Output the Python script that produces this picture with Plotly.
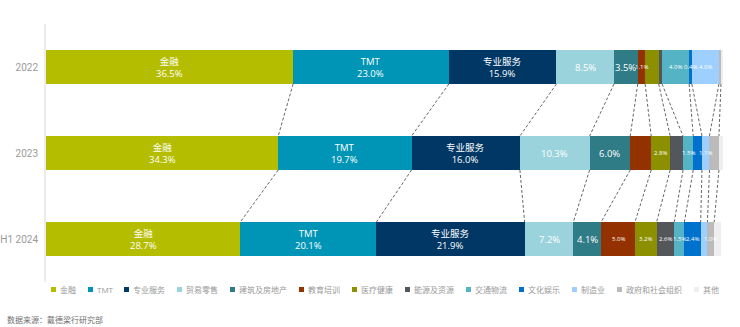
import plotly.graph_objects as go

# Industry share of office leasing demand (%)
categories = ['金融', 'TMT', '专业服务', '贸易零售', '建筑及房地产', '教育培训', '医疗健康',
              '能源及资源', '交通物流', '文化娱乐', '制造业', '政府和社会组织', '其他']
periods = ['2022', '2023', 'H1 2024']
share_2022 = [36.5, 23.0, 15.9, 8.5, 3.5, 1.1, 2.0, 0.5, 4.0, 0.4, 4.0, 0.3, 0.3]
share_2023 = [34.3, 19.7, 16.0, 10.3, 6.0, 3.1, 2.8, 1.9, 1.5, 1.3, 1.1, 1.4, 0.6]
share_h1_2024 = [28.7, 20.1, 21.9, 7.2, 4.1, 5.0, 3.2, 2.6, 1.5, 2.4, 1.0, 1.0, 1.0]
series = [share_2022, share_2023, share_h1_2024]

# Segments left unlabelled
unlabelled = {
    '2022': ['医疗健康', '能源及资源', '政府和社会组织', '其他'],
    '2023': ['教育培训', '能源及资源', '文化娱乐', '政府和社会组织', '其他'],
    'H1 2024': ['制造业', '其他'],
}

colors = ['#b5bd00', '#0095b6', '#003764', '#9bd3dd', '#2f7b86', '#943100', '#8b8f00',
          '#53565a', '#55b3c6', '#0072ce', '#9dcfff', '#bbbbbb', '#eeeeee']
named_cats = categories[:3]           # two-line label: name + value
large_cats = ['贸易零售', '建筑及房地产']  # single-line larger value label

FONT = 'Open Sans, Noto Sans CJK SC, sans-serif'
TICK_FONT = 'Roboto, Noto Sans CJK SC, sans-serif'
W, H = 740, 327
ML, MR, MT, MB = 46, 17, 24, 45
BAR_W = 0.395
PW = W - ML - MR
PH = H - MT - MB


def px_to_paper_x(px):
    return (px - ML) / PW


def px_to_paper_y(py):
    return (H - MB - py) / PH


fig = go.Figure()
for ci, cat in enumerate(categories):
    fig.add_trace(go.Bar(
        name=cat,
        orientation='h',
        y=list(range(len(periods))),
        x=[s[ci] for s in series],
        width=BAR_W,
        marker=dict(color=colors[ci], line=dict(width=0)),
        showlegend=False,
        hoverinfo='x+name',
    ))

annotations = []
shapes = []

# value labels inside segments
for pi, period in enumerate(periods):
    start = 0.0
    for ci, cat in enumerate(categories):
        v = series[pi][ci]
        mid = start + v / 2
        start += v
        if cat in unlabelled[period]:
            continue
        if cat in named_cats:
            text, size = f'{cat}<br>{v:.1f}%', 9.5
        elif cat in large_cats:
            text, size = f'{v:.1f}%', 9.5
        else:
            text, size = f'{v:.1f}%', 6
        annotations.append(dict(
            x=mid, y=pi, xref='x', yref='y', text=text, showarrow=False,
            font=dict(family=FONT, size=size, color='white'),
            xanchor='center', yanchor='middle',
        ))

# dashed connectors between matching segment boundaries
for pi in range(len(periods) - 1):
    cum_a = cum_b = 0.0
    for ci in range(len(categories) - 1):
        cum_a += series[pi][ci]
        cum_b += series[pi + 1][ci]
        shapes.append(dict(
            type='line', xref='x', yref='y',
            x0=cum_a, y0=pi + BAR_W / 2, x1=cum_b, y1=pi + 1 - BAR_W / 2,
            line=dict(color='#666666', width=1, dash='3px,2px'),
        ))

# legend row drawn as small squares and text
def text_width(s):
    return sum(8 if ord(ch) > 255 else 5 for ch in s)


lx = 51
ly = 289.5
for ci, cat in enumerate(categories):
    shapes.append(dict(
        type='rect', xref='paper', yref='paper',
        x0=px_to_paper_x(lx), x1=px_to_paper_x(lx + 5),
        y0=px_to_paper_y(ly + 2.5), y1=px_to_paper_y(ly - 2.5),
        fillcolor=colors[ci], line=dict(width=0),
    ))
    annotations.append(dict(
        x=px_to_paper_x(lx + 7), y=px_to_paper_y(ly), xref='paper', yref='paper',
        text=cat, showarrow=False, xanchor='left', yanchor='middle',
        font=dict(family=FONT, size=8, color='#999999'),
    ))
    lx = lx + 7 + text_width(cat) + 14

# source note
annotations.append(dict(
    x=px_to_paper_x(5), y=px_to_paper_y(319), xref='paper', yref='paper',
    text='数据来源：戴德梁行研究部', showarrow=False, xanchor='left', yanchor='middle',
    font=dict(family=FONT, size=8, color='#707070'),
))

fig.update_layout(
    width=W, height=H,
    margin=dict(l=ML, r=MR, t=MT, b=MB, autoexpand=False),
    barmode='stack',
    paper_bgcolor='white', plot_bgcolor='white',
    font=dict(family=FONT),
    xaxis=dict(visible=False, range=[0, 100], fixedrange=True),
    yaxis=dict(
        range=[len(periods) - 0.5, -0.5],
        tickvals=list(range(len(periods))), ticktext=periods,
        tickfont=dict(family=TICK_FONT, size=10, color='#9a9a9a'),
        showgrid=False, zeroline=False, ticks='', automargin=False,
        showline=True, linecolor='#ececec', linewidth=2,
        layer='below traces', ticklabelstandoff=4,
    ),
    annotations=annotations,
    shapes=shapes,
)

fig.write_html('out.html')
